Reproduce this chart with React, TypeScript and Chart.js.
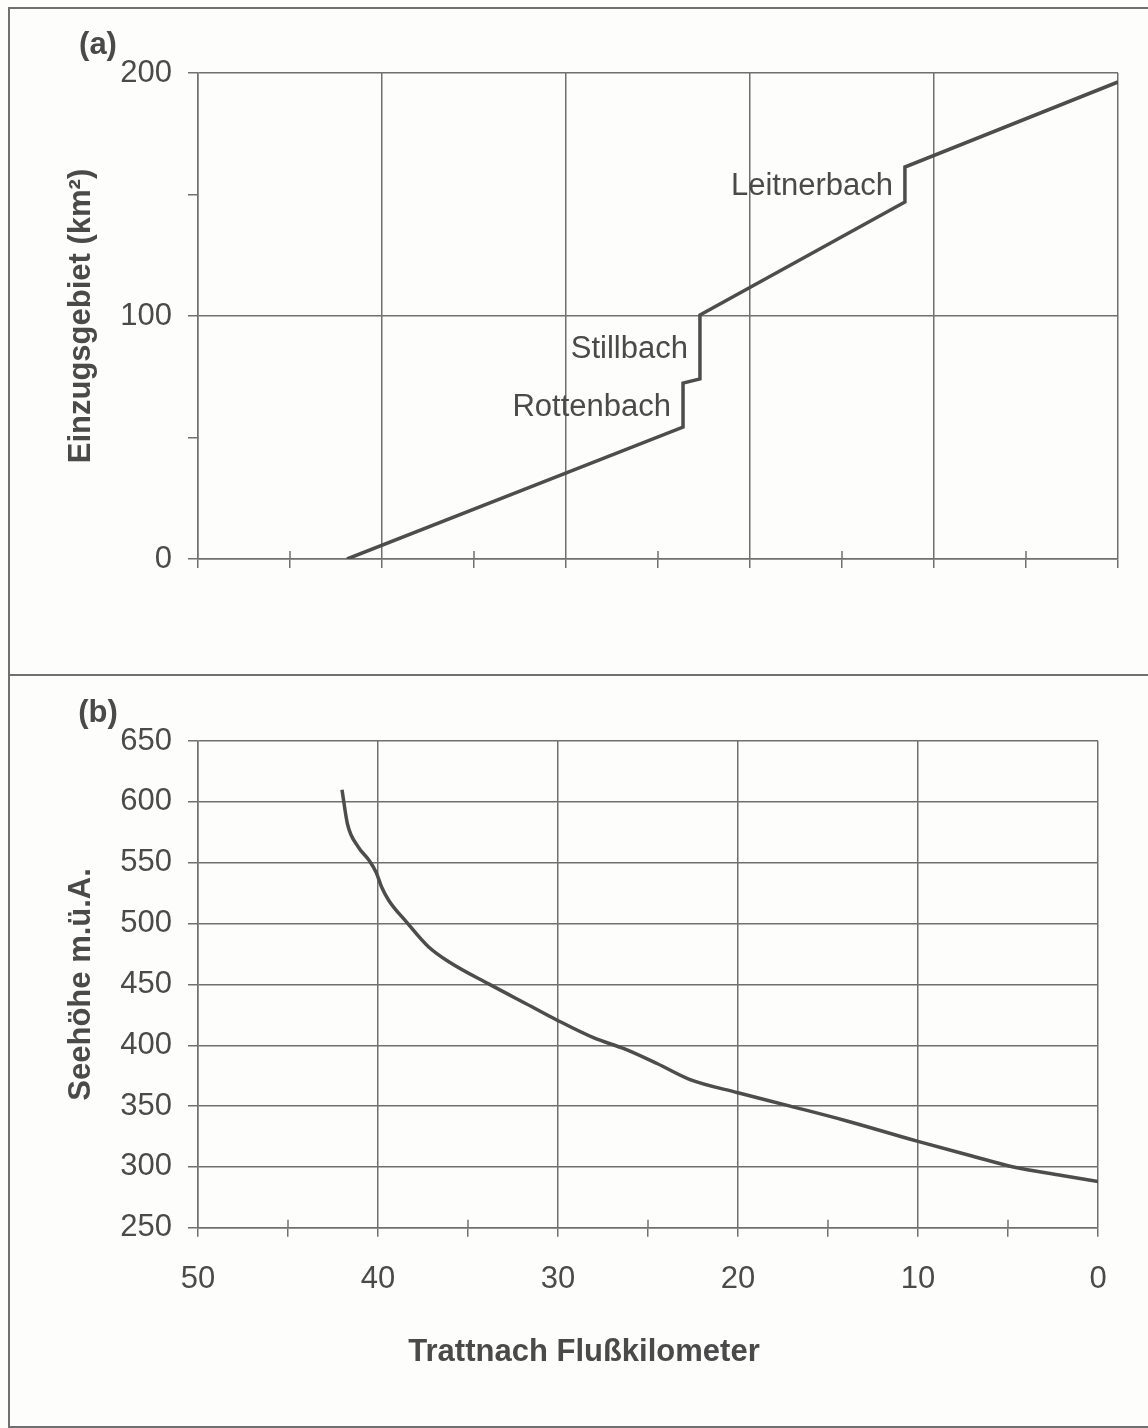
import { useEffect, useRef } from 'react';
import { Chart, registerables } from 'chart.js';

Chart.register(...registerables);

// (a) catchment area of the Trattnach along its course (river km, km²)
const areaKm = [41.9, 23.64, 23.64, 22.72, 22.72, 11.58, 11.58, 0];
const areaKm2 = [0, 54.3, 72.4, 74.1, 100.4, 146.9, 161.3, 196.3];
// tributaries entering at the steps of the area curve, upstream to downstream
const tributaries = ['Rottenbach', 'Stillbach', 'Leitnerbach'];

// (b) longitudinal profile (river km, elevation m a.s.l.)
const profileKm = [42.0, 41.7, 41.1, 40.5, 40.1, 39.8, 39.4, 38.4, 37.2, 36.0, 33.8, 31.5, 30.1, 28.0, 26.3, 24.5, 22.7, 20.0, 17.1, 14.0, 10.0, 7.0, 4.7, 2.0, 0];
const profileElev = [610, 582, 563, 552, 542, 530, 519, 501, 481, 468, 450, 432, 421, 406, 397, 385, 372, 361, 350, 338, 321, 309, 300, 293, 288];

const kmRange = [0, 50];
const areaRange = [0, 200];
const elevRange = [250, 650];

const FONT = "'Liberation Sans', Arial, Helvetica, sans-serif";
const TEXT = '#4a4a4a';
const GRID = '#707070';
const LINE = '#4d4d4d';

const minorTickInside = {
  id: 'minorTickInside',
  beforeDatasetsDraw(chart: any) {
    const xs = chart.scales.x;
    const ctx = chart.ctx;
    ctx.save();
    ctx.strokeStyle = GRID;
    ctx.lineWidth = 1.5;
    xs.ticks.forEach((t: any) => {
      if (t.value % 10 !== 0) {
        const px = xs.getPixelForValue(t.value);
        ctx.beginPath();
        ctx.moveTo(px, xs.top);
        ctx.lineTo(px, xs.top - 8);
        ctx.stroke();
      }
    });
    ctx.restore();
  },
};

const panelLabel = (text: string) => ({
  id: 'panelLabel',
  afterDraw(chart: any) {
    const { ctx, chartArea } = chart;
    ctx.save();
    ctx.font = `bold 31px ${FONT}`;
    ctx.fillStyle = TEXT;
    ctx.textAlign = 'center';
    ctx.textBaseline = 'middle';
    ctx.fillText(text, chartArea.left - 100, chartArea.top - 28);
    ctx.restore();
  },
});

const tributaryLabels = {
  id: 'tributaryLabels',
  afterDatasetsDraw(chart: any) {
    const xs = chart.scales.x;
    const ys = chart.scales.y;
    const ctx = chart.ctx;
    ctx.save();
    ctx.font = `31px ${FONT}`;
    ctx.fillStyle = TEXT;
    ctx.textAlign = 'right';
    ctx.textBaseline = 'middle';
    let k = 0;
    for (let i = 1; i < areaKm.length && k < tributaries.length; i++) {
      if (areaKm[i] === areaKm[i - 1]) {
        const px = xs.getPixelForValue(areaKm[i]);
        const py = ys.getPixelForValue((areaKm2[i] + areaKm2[i - 1]) / 2);
        ctx.fillText(tributaries[k++], px - 12, py + 2);
      }
    }
    ctx.restore();
  },
};

const tickFont = { family: FONT, size: 31 };
const titleFont = { family: FONT, size: 31, weight: 'bold' as const };

function kmAxis(showLabels: boolean, height: number) {
  return {
    type: 'linear' as const,
    min: kmRange[0],
    max: kmRange[1],
    reverse: true,
    ticks: {
      stepSize: 5,
      autoSkip: false,
      maxRotation: 0,
      display: showLabels,
      padding: 24,
      font: tickFont,
      color: TEXT,
      callback: (v: any) => (v % 10 === 0 ? String(v) : ''),
    },
    grid: {
      color: (c: any) => (c.tick && c.tick.value % 10 === 0 ? GRID : 'rgba(0,0,0,0)'),
      tickColor: GRID,
      lineWidth: 1.5,
      tickLength: 9,
    },
    border: { color: GRID, width: 1.5 },
    afterFit: (s: any) => {
      s.height = height;
    },
  };
}

export default function App() {
  const refA = useRef<HTMLCanvasElement>(null);
  const refB = useRef<HTMLCanvasElement>(null);

  useEffect(() => {
    const chartA = new Chart(refA.current!, {
      type: 'scatter',
      data: {
        datasets: [
          {
            data: areaKm.map((x, i) => ({ x, y: areaKm2[i] })),
            showLine: true,
            borderColor: LINE,
            borderWidth: 3.5,
            pointRadius: 0,
            tension: 0,
          },
        ],
      },
      options: {
        animation: false,
        responsive: false,
        layout: { padding: { top: 73, right: 30, left: 20, bottom: 0 } },
        plugins: { legend: { display: false }, tooltip: { enabled: false } },
        scales: {
          x: kmAxis(false, 116),
          y: {
            min: areaRange[0],
            max: areaRange[1],
            ticks: {
              stepSize: 50,
              padding: 16,
              font: tickFont,
              color: TEXT,
              callback: (v: any) => (v % 100 === 0 ? String(v) : ''),
            },
            grid: {
              color: (c: any) => (c.tick && c.tick.value % 100 === 0 ? GRID : 'rgba(0,0,0,0)'),
              tickColor: GRID,
              lineWidth: 1.5,
              tickLength: 10,
            },
            border: { color: GRID, width: 1.5 },
            title: {
              display: true,
              text: 'Einzugsgebiet (km²)',
              font: titleFont,
              color: TEXT,
              padding: { top: 43, bottom: 0 },
            },
            afterFit: (s: any) => {
              s.width = 178;
            },
          },
        },
      },
      plugins: [minorTickInside, tributaryLabels, panelLabel('(a)')],
    });

    const chartB = new Chart(refB.current!, {
      type: 'scatter',
      data: {
        datasets: [
          {
            data: profileKm.map((x, i) => ({ x, y: profileElev[i] })),
            showLine: true,
            borderColor: LINE,
            borderWidth: 3.5,
            pointRadius: 0,
            cubicInterpolationMode: 'monotone',
          },
        ],
      },
      options: {
        animation: false,
        responsive: false,
        layout: { padding: { top: 66, right: 0, left: 20, bottom: 57 } },
        plugins: {
          legend: { display: false },
          tooltip: { enabled: false },
          title: {
            display: true,
            position: 'bottom',
            text: 'Trattnach Flußkilometer',
            font: titleFont,
            color: TEXT,
            padding: 0,
          },
        },
        scales: {
          x: kmAxis(true, 106),
          y: {
            min: elevRange[0],
            max: elevRange[1],
            ticks: { stepSize: 50, padding: 16, font: tickFont, color: TEXT },
            grid: { color: GRID, tickColor: GRID, lineWidth: 1.5, tickLength: 10 },
            border: { color: GRID, width: 1.5 },
            title: {
              display: true,
              text: 'Seehöhe m.ü.A.',
              font: titleFont,
              color: TEXT,
              padding: { top: 43, bottom: 0 },
            },
            afterFit: (s: any) => {
              s.width = 178;
            },
          },
          // empty right margin so the bottom caption sits where the page centre is
          yRight: {
            position: 'right',
            display: true,
            ticks: { display: false },
            grid: { display: false },
            border: { display: false },
            afterFit: (s: any) => {
              s.width = 50;
            },
          },
        },
      },
      plugins: [minorTickInside, panelLabel('(b)')],
    });

    return () => {
      chartA.destroy();
      chartB.destroy();
    };
  }, []);

  return (
    <div
      style={{
        position: 'absolute',
        left: 0,
        top: 0,
        width: 1148,
        height: 1428,
        overflow: 'hidden',
        background: '#fdfdfc',
      }}
    >
      <div
        style={{
          position: 'absolute',
          left: 8,
          top: 7,
          width: 1160,
          height: 1417,
          border: `2px solid ${GRID}`,
        }}
      />
      <div
        style={{
          position: 'absolute',
          left: 8,
          top: 674,
          width: 1140,
          height: 2,
          background: GRID,
        }}
      />
      <canvas
        ref={refA}
        width={1148}
        height={675}
        style={{ position: 'absolute', left: 0, top: 0 }}
      />
      <canvas
        ref={refB}
        width={1148}
        height={753}
        style={{ position: 'absolute', left: 0, top: 675 }}
      />
    </div>
  );
}
